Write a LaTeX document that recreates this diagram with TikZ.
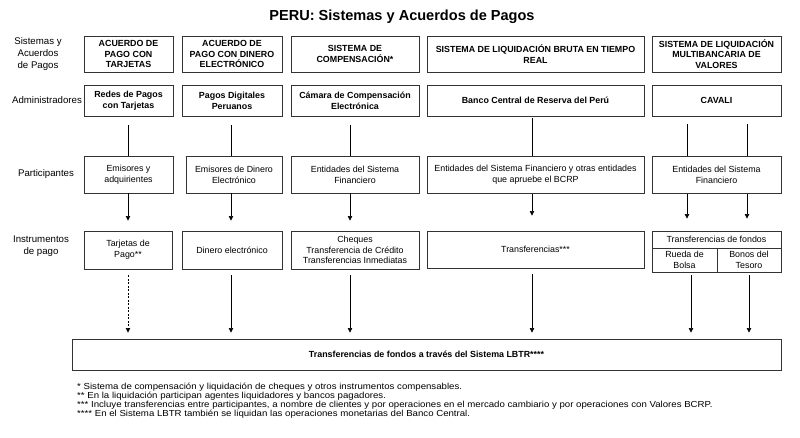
\documentclass[tikz,border=0pt]{standalone}
\usepackage{fontspec}
\setmainfont{Liberation Sans}
\newfontfamily\widefont[FakeStretch=1.1]{Liberation Sans}
\usetikzlibrary{arrows.meta,calc}
\begin{document}
\begin{tikzpicture}[x=1bp,y=-1bp,
  box/.style={draw=black!80, line width=0.9bp, inner sep=1bp, align=center,
    font=\fontsize{8.9}{10.8}\selectfont},
  bbox/.style={box, font=\fontsize{8.9}{10.8}\selectfont\bfseries},
  lab/.style={align=center, font=\fontsize{9.7}{11.8}\selectfont},
  foot/.style={anchor=base west, inner sep=0pt, font=\widefont\fontsize{8.8}{9}\selectfont},
  conn/.style={draw=black, line width=0.7bp},
  arr/.style={conn, -{Triangle[length=4.5bp,width=4.5bp]}},
]
\useasboundingbox (0,0) rectangle (800,438);

% title
\node[font=\fontsize{14.6}{16}\selectfont\bfseries] (title) at (402,17) {PERU: Sistemas y Acuerdos de Pagos};

% left labels
\node[lab] (l1) at (38,54) {Sistemas y\\Acuerdos\\de Pagos};
\node[lab] (l2) at (47,100.5) {Administradores};
\node[lab] (l3) at (46,174.5) {Participantes};
\node[lab] (l4) at (41,246) {Instrumentos\\de pago};

% row 1: sistemas
\node[bbox, minimum width=89bp, minimum height=36bp] (S1) at (128.5,54) {ACUERDO DE\\PAGO CON\\TARJETAS};
\node[bbox, minimum width=100bp, minimum height=36bp] (S2) at (232,54) {ACUERDO DE\\PAGO CON DINERO\\ELECTRÓNICO};
\node[bbox, minimum width=128bp, minimum height=36bp] (S3) at (355,54) {SISTEMA DE\\COMPENSACIÓN*};
\node[bbox, minimum width=217bp, minimum height=36bp] (S4) at (535.5,54) {SISTEMA DE LIQUIDACIÓN BRUTA EN TIEMPO\\REAL};
\node[bbox, minimum width=129bp, minimum height=36bp] (S5) at (716.5,54) {SISTEMA DE LIQUIDACIÓN\\MULTIBANCARIA DE\\VALORES};

% row 2: administradores
\node[bbox, minimum width=89bp, minimum height=31bp] (M1) at (128.5,100.5) {Redes de Pagos\\con Tarjetas};
\node[bbox, minimum width=100bp, minimum height=31bp] (M2) at (232,100.5) {Pagos Digitales\\Peruanos};
\node[bbox, minimum width=128bp, minimum height=31bp] (M3) at (355,100.5) {Cámara de Compensación\\Electrónica};
\node[bbox, minimum width=217bp, minimum height=31bp] (M4) at (535.5,100.5) {Banco Central de Reserva del Perú};
\node[bbox, minimum width=129bp, minimum height=31bp] (M5) at (716.5,100.5) {CAVALI};

% row 3: participantes
\node[box, minimum width=89bp, minimum height=37bp] (P1) at (128.5,174.5) {Emisores y\\adquirientes};
\node[box, minimum width=96bp, minimum height=37bp] (P2) at (234,174.5) {Emisores de Dinero\\Electrónico};
\node[box, minimum width=128bp, minimum height=37bp] (P3) at (355,174.5) {Entidades del Sistema\\Financiero};
\node[box, minimum width=217bp, minimum height=37bp] (P4) at (535.5,175) {Entidades del Sistema Financiero y otras entidades\\que apruebe el BCRP};
\node[box, minimum width=129bp, minimum height=37bp] (P5) at (716.5,175) {Entidades del Sistema\\Financiero};

% row 4: instrumentos
\node[box, minimum width=88bp, minimum height=38bp] (I1) at (128,250) {Tarjetas de\\Pago**};
\node[box, minimum width=100bp, minimum height=38bp] (I2) at (232,250) {Dinero electrónico};
\node[box, minimum width=128bp, minimum height=38bp] (I3) at (355,250) {Cheques\\Transferencia de Crédito\\Transferencias Inmediatas};
\node[box, minimum width=217bp, minimum height=37bp] (I4) at (535.5,249.5) {Transferencias***};
\node[box, minimum width=129bp, minimum height=17bp] (I5) at (716.5,239.5) {Transferencias de fondos};
\node[box, minimum width=65bp, minimum height=24bp] (I5a) at (684.5,260) {Rueda de\\Bolsa};
\node[box, minimum width=64bp, minimum height=24bp] (I5b) at (749,260) {Bonos del\\Tesoro};

% bottom
\node[bbox, minimum width=709bp, minimum height=31bp] (T) at (426.5,354.5) {Transferencias de fondos a través del Sistema LBTR****};

% x positions of connectors
\coordinate (x1) at (128,0);
\coordinate (x2) at (231,0);
\coordinate (x3) at (350,0);
\coordinate (x4) at (532,0);
\coordinate (x5a) at (687,0);
\coordinate (x5b) at (747,0);
\coordinate (x6a) at (691,0);
\coordinate (x6b) at (749,0);

% administradores -> participantes
\draw[conn, shorten <=9bp] (M1.south -| x1) -- (P1.north -| x1);
\draw[conn, shorten <=9bp] (M2.south -| x2) -- (P2.north -| x2);
\draw[conn, shorten <=9bp] (M3.south -| x3) -- (P3.north -| x3);
\draw[conn, shorten <=2bp] (M4.south -| x4) -- (P4.north -| x4);
\draw[conn, shorten <=8bp] (M5.south -| x5a) -- (P5.north -| x5a);
\draw[conn, shorten <=8bp] (M5.south -| x5b) -- (P5.north -| x5b);

% participantes -> instrumentos
\draw[arr, shorten >=10bp] (P1.south -| x1) -- (I1.north -| x1);
\draw[arr, shorten >=10bp] (P2.south -| x2) -- (I2.north -| x2);
\draw[arr, shorten >=10bp] (P3.south -| x3) -- (I3.north -| x3);
\draw[arr, shorten >=15bp] (P4.south -| x4) -- (I4.north -| x4);
\draw[arr, shorten >=12bp] (P5.south -| x5a) -- (I5.north -| x5a);
\draw[arr, shorten >=12bp] (P5.south -| x5b) -- (I5.north -| x5b);

% instrumentos -> LBTR
\draw[arr, dashed, dash pattern=on 2bp off 1.5bp, shorten <=6bp, shorten >=6bp] (I1.south -| x1) -- (T.north -| x1);
\draw[arr, shorten <=6bp, shorten >=6bp] (I2.south -| x2) -- (T.north -| x2);
\draw[arr, shorten <=6bp, shorten >=6bp] (I3.south -| x3) -- (T.north -| x3);
\draw[arr, shorten <=6bp, shorten >=6bp] (I4.south -| x4) -- (T.north -| x4);
\draw[arr, shorten <=3bp, shorten >=6bp] (I5a.south -| x6a) -- (T.north -| x6a);
\draw[arr, shorten <=3bp, shorten >=6bp] (I5b.south -| x6b) -- (T.north -| x6b);

% footnotes
\node[foot] (f1) at (77,389) {* Sistema de compensación y liquidación de cheques y otros instrumentos compensables.};
\node[foot] (f2) at (77,398.5) {** En la liquidación participan agentes liquidadores y bancos pagadores.};
\node[foot] (f3) at (77,407.7) {*** Incluye transferencias entre participantes, a nombre de clientes y por operaciones en el mercado cambiario y por operaciones con Valores BCRP.};
\node[foot] (f4) at (77,416.8) {**** En el Sistema LBTR también se liquidan las operaciones monetarias del Banco Central.};
\end{tikzpicture}
\end{document}
